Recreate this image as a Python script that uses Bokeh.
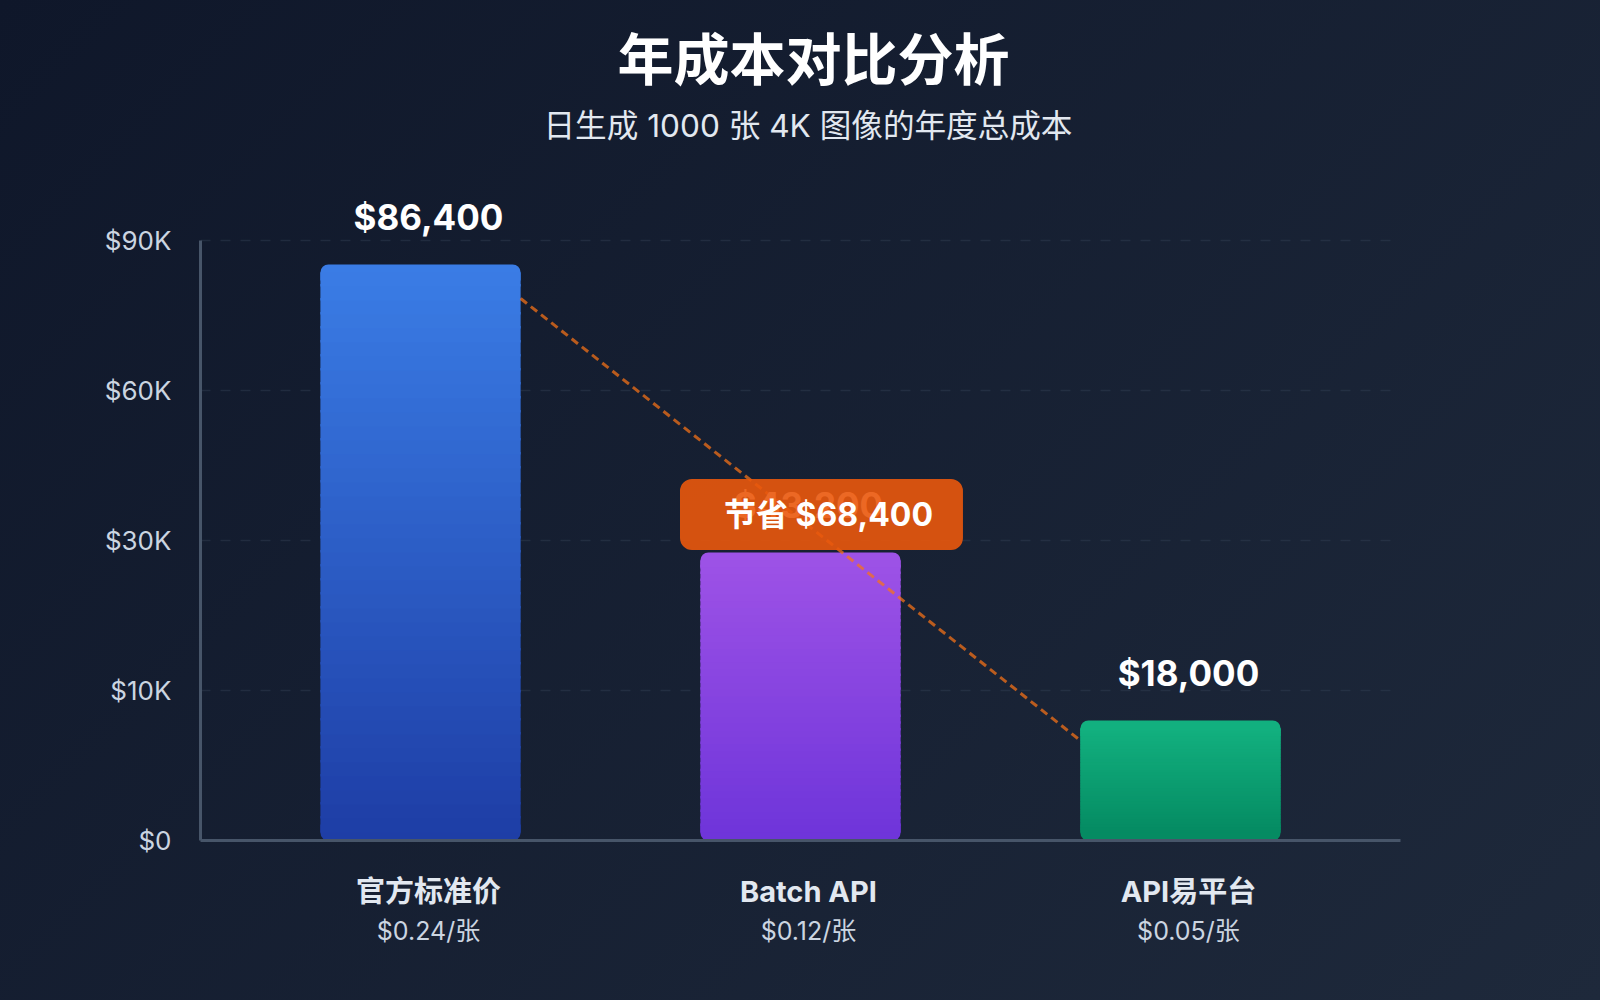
import numpy as np
from jinja2 import Template
from bokeh.plotting import figure
from bokeh.models import (Range1d, LinearAxis, FixedTicker, Title, Label, Grid,
                          ColumnDataSource)
from bokeh.core.properties import value
from bokeh.transform import dodge
from bokeh.embed import file_html
from bokeh.resources import INLINE

# ---------------- data ----------------
categories = ["官方标准价", "Batch API", "API易平台"]
unit_prices = ["$0.24/张", "$0.12/张", "$0.05/张"]
annual_costs = [86400, 43200, 18000]
y_tick_labels = ["$0", "$10K", "$30K", "$60K", "$90K"]
y_axis_max = 90000
trend_line_y = [81300, 15000]          # dashed savings line (start, end)
savings = annual_costs[0] - annual_costs[2]

# ---------------- style ----------------
bar_top_colors = ["#3a7ce5", "#9d52e6", "#12b07f"]
bar_bottom_colors = ["#1e3ea6", "#6f35da", "#058b62"]
FONT = "Inter, 'Noto Sans CJK SC', sans-serif"
CJK = "'Noto Sans CJK SC', Inter, sans-serif"

W, H = 1600, 1000
B_LEFT, B_RIGHT, B_TOP, B_BOTTOM = 200, 200, 150, 160
frame_h = H - B_TOP - B_BOTTOM
plot_area_h = frame_h - 90            # pixels used by 0..y_axis_max
y_end = y_axis_max * frame_h / plot_area_h
units_per_px = y_end / frame_h

idx = list(range(len(categories)))
x_start, x_end = -0.6, 2.558
bar_w = 0.527
bar_shift = -0.021                     # bars sit slightly left of the label centres

p = figure(width=W, height=H, x_range=Range1d(x_start, x_end),
           y_range=Range1d(0, y_end), output_backend="svg", toolbar_location=None,
           x_axis_type=None, y_axis_type=None,
           min_border_left=B_LEFT, min_border_right=B_RIGHT,
           min_border_top=B_TOP, min_border_bottom=B_BOTTOM)
p.background_fill_alpha = 0
p.border_fill_alpha = 0
p.outline_line_color = None

# ---------------- axes ----------------
y_ticks = [y_axis_max * i / (len(y_tick_labels) - 1) for i in range(len(y_tick_labels))]
yticker = FixedTicker(ticks=y_ticks)
yaxis = LinearAxis(ticker=yticker,
                   major_label_overrides={t: l for t, l in zip(y_ticks, y_tick_labels)},
                   bounds=(0, y_axis_max),
                   axis_line_color="#475569", axis_line_width=3,
                   major_tick_line_color=None, minor_tick_line_color=None,
                   major_label_text_color="#cbd5e1", major_label_text_font_size="26px",
                   major_label_text_font=FONT, major_label_standoff=23)
p.add_layout(yaxis, "left")
p.add_layout(Grid(dimension=1, ticker=yticker, grid_line_color="#334155",
                  grid_line_alpha=0.45, grid_line_dash="10 10", grid_line_width=1.5))

xticker = FixedTicker(ticks=idx)
xaxis_names = LinearAxis(ticker=xticker,
                         major_label_overrides={i: c for i, c in zip(idx, categories)},
                         axis_line_color="#475569", axis_line_width=3,
                         major_tick_line_color=None, minor_tick_line_color=None,
                         major_label_text_color="#e2e8f0", major_label_text_font_size="29px",
                         major_label_text_font_style="bold", major_label_text_font=FONT,
                         major_label_standoff=27)
xaxis_prices = LinearAxis(ticker=xticker,
                          major_label_overrides={i: u for i, u in zip(idx, unit_prices)},
                          axis_line_color=None,
                          major_tick_line_color=None, minor_tick_line_color=None,
                          major_label_text_color="#cbd5e1", major_label_text_font_size="25px",
                          major_label_text_font=FONT, major_label_standoff=-2)
p.add_layout(xaxis_names, "below")
p.add_layout(xaxis_prices, "below")

# ---------------- gradient bars ----------------
r = 8 * units_per_px
n_slices = 40
cap_src_top = ColumnDataSource(dict(x=idx, bottom=[v - 2 * r for v in annual_costs],
                                    top=annual_costs, color=bar_top_colors))
cap_src_bot = ColumnDataSource(dict(x=idx, bottom=[0] * len(idx),
                                    top=[2 * r] * len(idx), color=bar_bottom_colors))
p.vbar(x=dodge("x", bar_shift, range=p.x_range), bottom="bottom", top="top", width=bar_w,
       fill_color="color", line_color=None, border_radius=(8, 8, 0, 0), source=cap_src_top)
p.vbar(x=dodge("x", bar_shift, range=p.x_range), bottom="bottom", top="top", width=bar_w,
       fill_color="color", line_color=None, border_radius=(0, 0, 8, 8), source=cap_src_bot)


def hex2rgb(h):
    h = h.lstrip("#")
    return np.array([int(h[i:i + 2], 16) for i in (0, 2, 4)], dtype=float)


sx, sb, st, sc = [], [], [], []
for i, v in zip(idx, annual_costs):
    ct, cb = hex2rgb(bar_top_colors[i]), hex2rgb(bar_bottom_colors[i])
    edges = np.linspace(r, v - r, n_slices + 1)
    for k in range(n_slices):
        f = (k + 0.5) / n_slices
        c = cb + (ct - cb) * f
        sx.append(i)
        sb.append(edges[k])
        st.append(edges[k + 1] + (2.5 * units_per_px if k < n_slices - 1 else 0))
        sc.append("#%02x%02x%02x" % tuple(int(round(t)) for t in c))
slice_src = ColumnDataSource(dict(x=sx, bottom=sb, top=st, color=sc))
p.vbar(x=dodge("x", bar_shift, range=p.x_range), bottom="bottom", top="top", width=bar_w,
       fill_color="color", line_color=None, source=slice_src)

# ---------------- savings trend line ----------------
p.line(x=[idx[0] + bar_shift + bar_w / 2, idx[-1] + bar_shift - bar_w / 2], y=trend_line_y,
       line_color="#f97316", line_alpha=0.72, line_width=3, line_dash="8 5")

# ---------------- value labels ----------------
p.text(x=idx, y=annual_costs, text=[f"${v:,}" for v in annual_costs],
       text_align="center", text_baseline="alphabetic", y_offset=-48,
       text_font=value(FONT), text_font_size="35px", text_font_style="bold",
       text_color="#ffffff")

# ---------------- savings badge ----------------
p.add_layout(Label(x=idx[1], y=annual_costs[1], x_offset=13, y_offset=38,
                   text=f"节省 ${savings:,}", text_align="center", text_baseline="middle",
                   text_font=FONT, text_font_size="32px", text_font_style="bold",
                   text_color="#ffffff", background_fill_color="#ea580c",
                   background_fill_alpha=0.9, border_radius=12, padding=(44, 30, 16, 16)))

# ---------------- titles ----------------
p.add_layout(Title(text="日生成 1000 张 4K 图像的年度总成本", align="left", offset=343,
                   text_font=FONT, text_font_size="31.6px", text_font_style="normal",
                   text_color="#e2e8f0", standoff=12), "above")
p.add_layout(Title(text="年成本对比分析", align="left", offset=417, text_font=CJK,
                   text_font_size="56px", text_font_style="bold",
                   text_color="#ffffff", standoff=4), "above")

page = Template("""{% extends base %}
{% block preamble %}<style>
html, body { margin: 0; padding: 0; overflow: hidden; min-height: 100vh;
  background: linear-gradient(135deg, #0f172a 0%, #1e293b 100%); }
</style>{% endblock %}""")

open("out.html", "w").write(file_html(p, INLINE, template=page))
